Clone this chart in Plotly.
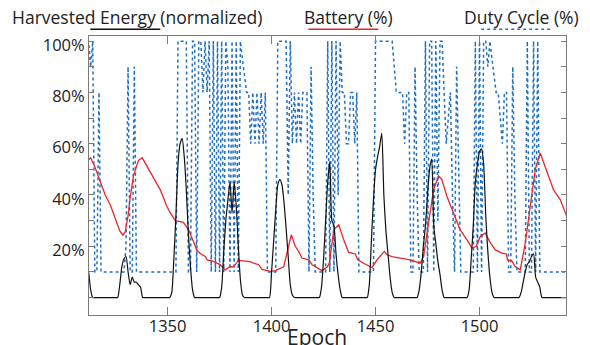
import plotly.graph_objects as go

# ---------------- data ----------------
epochs = list(range(1311, 1543))

harvested_energy = [
    14, 10, 3, 0, 0, 0, 0, 0, 0, 0,
    0, 0, 0, 0, 0, 0, 5, 12, 15, 16,
    10, 5, 8, 6, 6, 5, 4, 0, 0, 0,
    0, 0, 0, 0, 0, 0, 0, 0, 0, 0,
    0, 2, 15, 32, 52, 60, 62, 55, 42, 25,
    12, 3, 0, 0, 0, 0, 0, 0, 0, 0,
    0, 0, 0, 0, 0, 4, 18, 30, 38, 45,
    33, 45, 36, 20, 7, 1, 0, 0, 0, 0,
    0, 0, 0, 0, 0, 0, 0, 0, 0, 10,
    22, 34, 44, 46, 44, 37, 27, 16, 5, 1,
    0, 0, 0, 0, 0, 0, 0, 0, 0, 0,
    0, 0, 0, 4, 15, 30, 45, 53, 30, 28,
    17, 9, 3, 0, 0, 0, 0, 0, 0, 0,
    0, 0, 0, 0, 0, 0, 5, 22, 38, 50,
    55, 59, 64, 40, 26, 17, 8, 2, 0, 0,
    0, 0, 0, 0, 0, 0, 0, 0, 0, 0,
    3, 10, 20, 28, 40, 50, 54, 28, 21, 14,
    9, 3, 0, 0, 0, 0, 0, 0, 0, 0,
    0, 0, 0, 0, 3, 15, 28, 45, 52, 57,
    58, 52, 32, 18, 8, 2, 0, 0, 0, 0,
    0, 0, 0, 0, 0, 0, 0, 0, 0, 2,
    6, 10, 13, 14, 16, 17, 8, 6, 4, 0,
    0, 0, 0, 0, 0, 0, 0, 0, 0, 0,
    0, 0,
]

duty_cycle = [
    100, 100, 90, 100, 10, 10, 80, 10, 10, 10,
    10, 10, 10, 10, 10, 10, 10, 10, 10, 20,
    90, 10, 10, 90, 10, 10, 10, 10, 10, 10,
    10, 10, 10, 10, 10, 10, 10, 10, 10, 10,
    10, 10, 10, 10, 100, 100, 100, 100, 100, 10,
    10, 100, 100, 10, 100, 100, 80, 100, 80, 100,
    10, 100, 10, 100, 10, 100, 10, 100, 90, 10,
    100, 10, 100, 10, 100, 93, 87, 80, 80, 60,
    80, 60, 80, 60, 80, 60, 80, 10, 10, 10,
    10, 10, 100, 100, 100, 100, 100, 40, 100, 60,
    80, 60, 80, 60, 80, 80, 80, 10, 90, 40,
    10, 10, 10, 10, 10, 10, 100, 10, 100, 10,
    100, 40, 100, 80, 80, 60, 60, 80, 80, 60,
    80, 10, 10, 10, 10, 10, 10, 10, 10, 100,
    100, 100, 100, 100, 100, 100, 100, 100, 90, 80,
    80, 80, 80, 60, 80, 80, 10, 10, 90, 40,
    10, 10, 10, 100, 10, 100, 100, 10, 100, 30,
    100, 100, 80, 60, 70, 80, 40, 10, 90, 45,
    10, 10, 10, 10, 10, 10, 10, 100, 10, 100,
    10, 100, 100, 90, 100, 93, 87, 80, 80, 70,
    60, 80, 80, 10, 10, 90, 40, 10, 10, 10,
    10, 10, 100, 10, 10, 100, 10, 100, 10, 10,
    10, 10, 10, 10, 10, 10, 10, 10, 10, 10,
    10, 10,
]

battery_epochs = [
    1311, 1313, 1315, 1317.5, 1320, 1322.5, 1325.5, 1327, 1328.5, 1329.6,
    1331, 1332, 1333.6, 1336, 1337.8, 1339.5, 1341.7, 1344, 1346.5, 1349.4,
    1351.3, 1353.7, 1355.5, 1357.6, 1360.1, 1362.5, 1364.1, 1366, 1368.1, 1369,
    1372, 1375.3, 1377.7, 1380.1, 1381.7, 1384.1, 1387, 1389.7, 1391.4, 1393.8,
    1395.4, 1397, 1399.4, 1401.8, 1404.2, 1405.8, 1407.4, 1409.5, 1411.4, 1413,
    1414.6, 1417.9, 1419.5, 1421.9, 1424.3, 1426.7, 1427.8, 1429.9, 1432.3, 1434.7,
    1437.1, 1440.3, 1441.4, 1444.3, 1448.3, 1450.7, 1453.1, 1454.2, 1455.5, 1458,
    1461.9, 1466.7, 1471.5, 1473.1, 1475.5, 1477.9, 1480.3, 1481.9, 1484.3, 1487.5,
    1490.7, 1494, 1496.4, 1498.4, 1500.4, 1502.8, 1504.8, 1507.6, 1510.8, 1512.9,
    1513.5, 1515.6, 1517.2, 1519.6, 1522, 1524.4, 1526.8, 1529.2, 1531.6, 1535.6,
    1538.8, 1542,
]
battery = [
    53, 54.5, 51, 45.5, 40, 36, 29.5, 26, 24.3, 25.5,
    32, 39, 47.5, 53.5, 54.5, 52, 48.6, 45.5, 42, 36,
    33, 30, 29.6, 29.3, 26.4, 21.2, 18.5, 17, 16, 14.7,
    14.1, 12.8, 10.8, 12.1, 12, 14.5, 14.3, 14, 13.4, 12.8,
    11, 10.6, 10.2, 10.5, 11.5, 12, 17.3, 24.5, 20, 18,
    15.4, 14.7, 12.8, 11.5, 10.5, 11.9, 13.4, 26.4, 28.4, 22.5,
    17.6, 17, 14.7, 13.4, 11.7, 14.7, 17, 18, 16.7, 16,
    15.4, 14.7, 13.4, 16, 29, 42, 47.5, 46, 39.5, 33,
    26.4, 22.5, 19.3, 20, 23.8, 25.2, 21.9, 18.6, 17.3, 17,
    14.7, 14.2, 12.1, 10.8, 21.2, 35.5, 49.9, 56.4, 51.2, 42,
    38.2, 31.6,
]

y_tickvals = [20, 40, 60, 80, 100]
y_ticktext = ["20%", "40%", "60%", "80%", "100%"]
x_tickvals = [1350, 1400, 1450, 1500]
legend_names = ["Harvested Energy (normalized)", "Battery (%)", "Duty Cycle (%)"]

# ---------------- figure ----------------
BLUE = "#1f6fbf"
RED = "#e8272b"
BLACK = "#111111"
FRAME = "#7a7a7a"
TEXT = "#222222"
FONT = "Open Sans"

fig = go.Figure()
fig.add_trace(go.Scatter(x=epochs, y=duty_cycle, mode="lines", name=legend_names[2],
                         line=dict(color=BLUE, width=1.5, dash="dot")))
fig.add_trace(go.Scatter(x=battery_epochs, y=battery, mode="lines", name=legend_names[1],
                         line=dict(color=RED, width=1.3)))
fig.add_trace(go.Scatter(x=epochs, y=harvested_energy, mode="lines", name=legend_names[0],
                         line=dict(color=BLACK, width=1.2, shape="spline", smoothing=0.6)))

fig.update_layout(
    width=590, height=345,
    margin=dict(l=89, r=24, t=36, b=30, autoexpand=False),
    paper_bgcolor="white", plot_bgcolor="white",
    showlegend=False,
    font=dict(family=FONT, size=16, color=TEXT),
)
fig.update_xaxes(
    range=[1312.2, 1541.6], tickvals=x_tickvals, ticks="inside", ticklen=8,
    tickcolor=FRAME, showline=True, linecolor=FRAME, linewidth=1, mirror="ticks",
    showgrid=False, zeroline=False, tickfont=dict(size=16.5, color=TEXT),
    automargin=False, ticklabelstandoff=-4,
)
fig.update_yaxes(
    range=[-6.8, 102], tickvals=y_tickvals, ticktext=y_ticktext, ticks="inside", ticklen=5,
    tickcolor=FRAME, showline=True, linecolor=FRAME, linewidth=1, mirror="ticks",
    showgrid=False, zeroline=False, tickfont=dict(size=16.5, color=TEXT),
    minor=dict(dtick=10, tick0=0, ticks="inside", ticklen=5, tickcolor=FRAME),
    automargin=False, ticklabelshift=4,
)

# axis title
fig.add_annotation(text="Epoch", xref="paper", yref="paper", x=0.478, y=-0.079,
                   xanchor="center", yanchor="middle", showarrow=False,
                   font=dict(size=21, color=TEXT, family=FONT))

# custom legend: text above, line sample below
leg = [
    (legend_names[0], 0.1023, 0.0027, 0.1494, BLACK, "solid", 1.4),
    (legend_names[1], 0.5435, 0.4597, 0.6064, RED, "solid", 1.4),
    (legend_names[2], 0.9072, 0.8223, 0.9669, BLUE, "dot", 1.5),
]
for name, tx, x0, x1, col, dash, w in leg:
    fig.add_annotation(text=name, xref="paper", yref="paper", x=tx, y=1.068,
                       xanchor="center", yanchor="middle", showarrow=False,
                       font=dict(size=17.5, color=TEXT, family=FONT))
    fig.add_shape(type="line", xref="paper", yref="paper", x0=x0, x1=x1, y0=1.024, y1=1.024,
                  line=dict(color=col, width=w, dash=dash))

fig.write_html("out.html", config={"displayModeBar": False},
               post_script="document.body.style.margin='0';document.body.style.padding='0';")
